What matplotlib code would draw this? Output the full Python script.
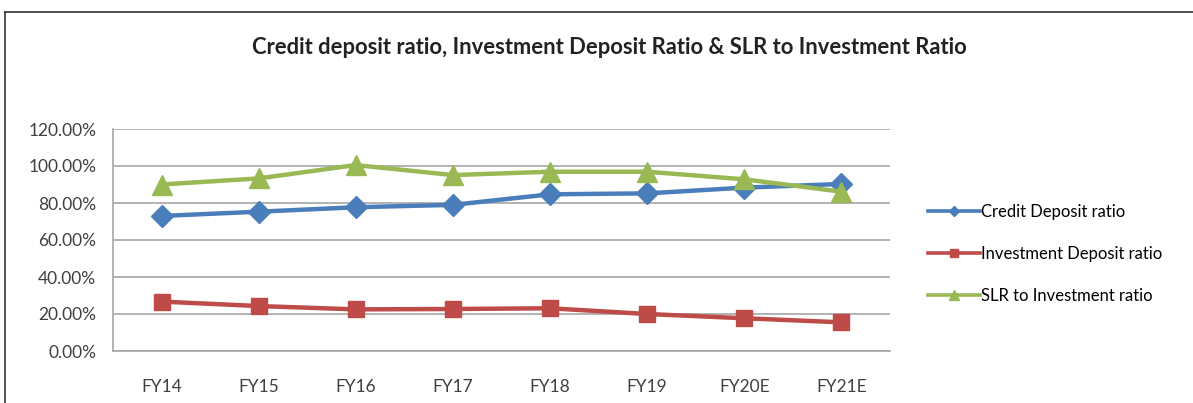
import matplotlib
matplotlib.use("Agg")
import matplotlib.pyplot as plt
from matplotlib.ticker import FuncFormatter

plt.rcParams["font.family"] = ["Lato", "DejaVu Sans"]

# -- data ---------------------------------------------------------------------
years = ["FY14", "FY15", "FY16", "FY17", "FY18", "FY19", "FY20E", "FY21E"]
credit_deposit = [73.0, 75.3, 77.7, 79.0, 84.7, 85.2, 88.3, 90.3]
investment_deposit = [26.7, 24.3, 22.5, 22.7, 23.1, 20.0, 17.7, 15.5]
slr_to_investment = [90.0, 93.3, 100.5, 95.1, 96.9, 96.9, 92.8, 86.1]

BLUE = "#4A7EBB"
RED = "#BE4B48"
GREEN = "#98B954"
GRID = "#A6A6A6"
INK = "#404040"

fig = plt.figure(figsize=(11.93, 4.03), dpi=100)
fig.patch.set_facecolor("white")

# outer chart frame (top and left edges visible)
fig.add_artist(plt.Line2D([5 / 1193, 5 / 1193], [0, 1 - 12 / 403],
                          color="#333333", lw=1.2, transform=fig.transFigure))
fig.add_artist(plt.Line2D([5 / 1193, 1], [1 - 12 / 403, 1 - 12 / 403],
                          color="#333333", lw=1.2, transform=fig.transFigure))

fig.text(609 / 1193, 1 - 47 / 403,
         "Credit deposit ratio, Investment Deposit Ratio & SLR to Investment Ratio",
         ha="center", va="center", fontsize=15.8, fontweight="bold", color="#222222")

ax = fig.add_axes([113 / 1193, 1 - 351 / 403, (890 - 113) / 1193, (351 - 129) / 403])
x = range(len(years))

ax.plot(x, credit_deposit, color=BLUE, lw=3.2, marker="D", markersize=11,
        label="Credit Deposit ratio", zorder=4)
ax.plot(x, investment_deposit, color=RED, lw=3.2, marker="s", markersize=12,
        label="Investment Deposit ratio", zorder=3)
ax.plot(x, slr_to_investment, color=GREEN, lw=3.2, marker="^", markersize=15,
        label="SLR to Investment ratio", zorder=5)

ax.set_xlim(-0.5, len(years) - 0.5)
ax.set_ylim(0, 120)
ax.set_yticks(range(0, 121, 20))
ax.yaxis.set_major_formatter(FuncFormatter(lambda v, _: f"{v:.2f}%"))
ax.set_xticks(list(x))
ax.set_xticklabels(years)
ax.tick_params(axis="both", length=0, labelsize=12.5, colors=INK)
ax.tick_params(axis="x", pad=20)
ax.tick_params(axis="y", pad=12)

ax.grid(axis="y", color=GRID, lw=1.2)
ax.set_axisbelow(True)
for side in ("top", "right"):
    ax.spines[side].set_visible(False)
for side in ("left", "bottom"):
    ax.spines[side].set_color(GRID)
    ax.spines[side].set_linewidth(1.2)

handles, labels = ax.get_legend_handles_labels()
leg = fig.legend(handles, labels, loc="upper left",
                 bbox_to_anchor=(928 / 1193, 1 - 204 / 403),
                 frameon=False, fontsize=12, markerscale=0.45,
                 handlelength=3.1, handletextpad=0.1, labelspacing=1.55,
                 borderaxespad=0, borderpad=0)
for line in leg.get_lines():
    line.set_linewidth(2.6)

fig.savefig("out.png", dpi=100, facecolor="white")
